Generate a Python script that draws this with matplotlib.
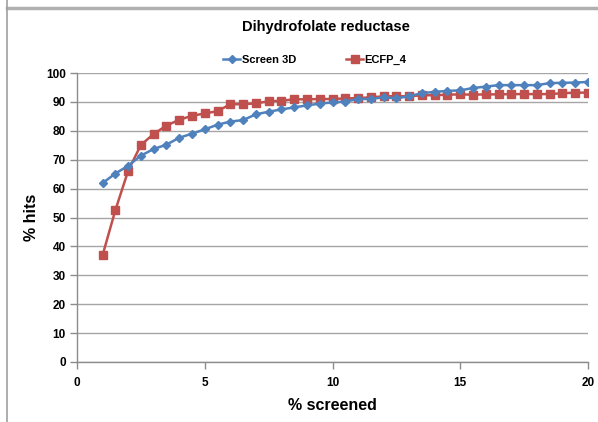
import matplotlib
matplotlib.use("Agg")
import matplotlib.pyplot as plt
from matplotlib.lines import Line2D

plt.rcParams['font.family'] = ['Liberation Sans', 'DejaVu Sans']

x_vals = [1, 1.5, 2, 2.5, 3, 3.5, 4, 4.5, 5, 5.5, 6, 6.5, 7, 7.5, 8, 8.5, 9, 9.5, 10,
          10.5, 11, 11.5, 12, 12.5, 13, 13.5, 14, 14.5, 15, 15.5, 16, 16.5, 17, 17.5,
          18, 18.5, 19, 19.5, 20]
screen3d = [61.9, 65.2, 67.9, 71.4, 73.7, 75.2, 77.6, 79.0, 80.5, 82.1, 83.2, 83.7, 85.7,
            86.6, 87.4, 88.1, 88.8, 89.4, 89.8, 90.1, 91.0, 91.0, 91.6, 91.2, 92.0, 93.0,
            93.5, 93.8, 94.0, 94.8, 95.3, 95.8, 95.8, 95.8, 95.8, 96.5, 96.6, 96.7, 96.9]
ecfp4 = [36.9, 52.5, 66.1, 75.1, 78.9, 81.8, 83.8, 85.2, 86.0, 86.8, 89.2, 89.2, 89.5,
         90.2, 90.4, 90.9, 90.9, 91.0, 91.0, 91.2, 91.3, 91.6, 91.9, 92.0, 91.9, 92.3,
         92.3, 92.5, 92.6, 92.5, 92.6, 92.6, 92.7, 92.7, 92.7, 92.7, 93.0, 93.2, 93.2]

title = "Dihydrofolate reductase"
series_names = ["Screen 3D", "ECFP_4"]
xlabel = "% screened"
ylabel = "% hits"

blue = "#4F81BD"
red = "#C0504D"

fig = plt.figure(figsize=(5.98, 4.22), dpi=100)
W, H = 598, 422
ax = fig.add_axes([77 / W, (H - 362) / H, (588 - 77) / W, (362 - 73) / H])

ax.plot(x_vals, screen3d, color=blue, lw=1.8, marker='D', ms=4.2, mec=blue, mfc=blue,
        label=series_names[0], zorder=3)
ax.plot(x_vals, ecfp4, color=red, lw=1.8, marker='s', ms=5.5, mec=red, mfc=red,
        label=series_names[1], zorder=2)

ax.set_xlim(0, 20)
ax.set_ylim(0, 100)
ax.set_xticks(range(0, 21, 5))
ax.set_yticks(range(0, 101, 10))
ax.yaxis.grid(True, color='#a6a6a6', lw=1.0)
ax.set_axisbelow(True)
for s in ['top', 'right']:
    ax.spines[s].set_visible(False)
for s in ['left', 'bottom']:
    ax.spines[s].set_color('#8c8c8c')
    ax.spines[s].set_linewidth(1.0)
ax.tick_params(axis='both', colors='#8c8c8c', length=5, width=1.0, labelcolor='black',
               labelsize=8.5)
ax.tick_params(axis='x', pad=6)
ax.tick_params(axis='y', pad=3)
for lab in ax.get_xticklabels() + ax.get_yticklabels():
    lab.set_fontweight('bold')

ax.set_xlabel(xlabel, fontsize=11.5, fontweight='bold', labelpad=6)
ax.set_ylabel(ylabel, fontsize=11.5, fontweight='bold', labelpad=5)

fig.text(326 / W, 1 - 27 / H, title, ha='center', va='center', fontsize=10.5,
         fontweight='bold')

leg = fig.legend(loc='center', bbox_to_anchor=(315 / W, 1 - 60 / H), ncol=2, frameon=False,
                 prop={'weight': 'bold', 'size': 8}, handlelength=1.5, columnspacing=4.5,
                 handletextpad=0.15)

# outer frame lines (top and left)
fig.add_artist(Line2D([7 / W, 1], [1 - 8 / H, 1 - 8 / H], transform=fig.transFigure,
                      color='#b0b0b0', lw=2.5))
fig.add_artist(Line2D([7 / W, 7 / W], [0, 1], transform=fig.transFigure,
                      color='#a0a0a0', lw=1.2))

fig.savefig("out.png", dpi=100)
